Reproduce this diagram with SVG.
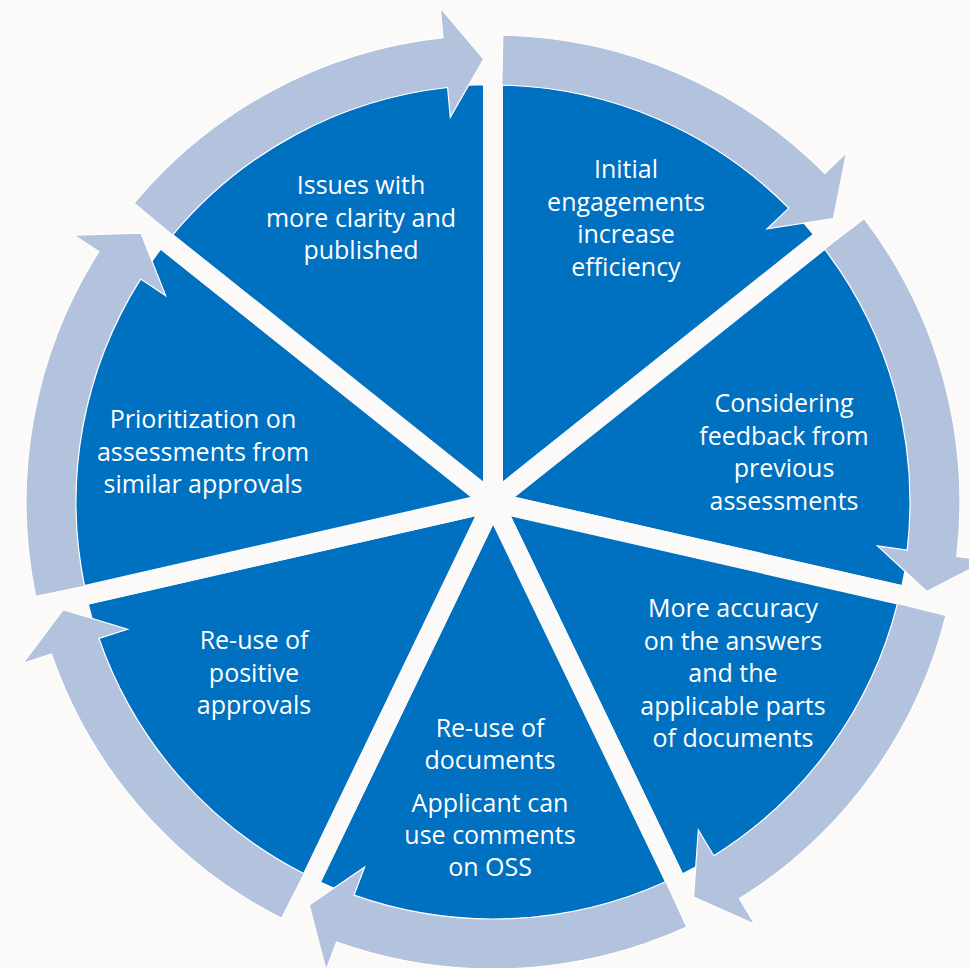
<svg xmlns="http://www.w3.org/2000/svg" xmlns:xlink="http://www.w3.org/1999/xlink" width="969" height="968" viewBox="0 0 969 968">
<defs>
<style>
.seg{fill:#0070C0;stroke:#FBFAF8;stroke-width:20;stroke-linejoin:miter}
.arr{fill:#B3C3DE;stroke:#FFFFFF;stroke-width:1.2;stroke-linejoin:miter}
.lbl{font-family:"Open Sans","Noto Sans","Liberation Sans",sans-serif;font-size:25px;fill:#FFFFFF;text-anchor:middle}
</style>
<path id="wedge" d="M0,0 L427,0 A427,427 0 0 1 266.2,333.8 Z"/>
<path id="arrow" d="M298.8,-358.9 A467,467 0 0 1 464.3,-50 L494.2,-52.7 L442.9,-9.3 L384.6,-42.7 L414.5,-45.4 A417,417 0 0 0 266.8,-320.5 Z"/>
</defs>
<rect x="0" y="0" width="969" height="968" fill="#FBFAF8"/>
<g id="node-initial">
<use xlink:href="#wedge" href="#wedge" class="seg" transform="translate(493,502) rotate(-90)"/>
<text class="lbl"><tspan x="626" y="178">Initial</tspan><tspan x="626" y="210.5">engagements</tspan><tspan x="626" y="243">increase</tspan><tspan x="626" y="275.5">efficiency</tspan></text>
</g>
<g id="node-considering">
<use xlink:href="#wedge" href="#wedge" class="seg" transform="translate(493,502) rotate(-38.571)"/>
<text class="lbl"><tspan x="784" y="412">Considering</tspan><tspan x="784" y="444.5">feedback from</tspan><tspan x="784" y="477">previous</tspan><tspan x="784" y="509.5">assessments</tspan></text>
</g>
<g id="node-accuracy">
<use xlink:href="#wedge" href="#wedge" class="seg" transform="translate(493,502) rotate(12.857)"/>
<text class="lbl"><tspan x="733" y="617">More accuracy</tspan><tspan x="733" y="649.5">on the answers</tspan><tspan x="733" y="682">and the</tspan><tspan x="733" y="714.5">applicable parts</tspan><tspan x="733" y="747">of documents</tspan></text>
</g>
<g id="node-documents">
<use xlink:href="#wedge" href="#wedge" class="seg" transform="translate(493,502) rotate(64.286)"/>
<text class="lbl"><tspan x="490" y="737">Re-use of</tspan><tspan x="490" y="769">documents</tspan><tspan x="490" y="812">Applicant can</tspan><tspan x="490" y="844">use comments</tspan><tspan x="490" y="876">on OSS</tspan></text>
</g>
<g id="node-positive">
<use xlink:href="#wedge" href="#wedge" class="seg" transform="translate(493,502) rotate(115.714)"/>
<text class="lbl"><tspan x="254" y="649">Re-use of</tspan><tspan x="254" y="681.5">positive</tspan><tspan x="254" y="714">approvals</tspan></text>
</g>
<g id="node-prioritization">
<use xlink:href="#wedge" href="#wedge" class="seg" transform="translate(493,502) rotate(167.143)"/>
<text class="lbl"><tspan x="203" y="428">Prioritization on</tspan><tspan x="203" y="460.5">assessments from</tspan><tspan x="203" y="493">similar approvals</tspan></text>
</g>
<g id="node-issues">
<use xlink:href="#wedge" href="#wedge" class="seg" transform="translate(493,502) rotate(218.571)"/>
<text class="lbl"><tspan x="361" y="194">Issues with</tspan><tspan x="361" y="226.5">more clarity and</tspan><tspan x="361" y="259">published</tspan></text>
</g>
<g id="connectors">
<use xlink:href="#arrow" href="#arrow" class="arr" transform="translate(493,502) rotate(-90)"/>
<use xlink:href="#arrow" href="#arrow" class="arr" transform="translate(493,502) rotate(-38.571)"/>
<use xlink:href="#arrow" href="#arrow" class="arr" transform="translate(493,502) rotate(12.857)"/>
<use xlink:href="#arrow" href="#arrow" class="arr" transform="translate(493,502) rotate(64.286)"/>
<use xlink:href="#arrow" href="#arrow" class="arr" transform="translate(493,502) rotate(115.714)"/>
<use xlink:href="#arrow" href="#arrow" class="arr" transform="translate(493,502) rotate(167.143)"/>
<use xlink:href="#arrow" href="#arrow" class="arr" transform="translate(493,502) rotate(218.571)"/>
</g>
</svg>
